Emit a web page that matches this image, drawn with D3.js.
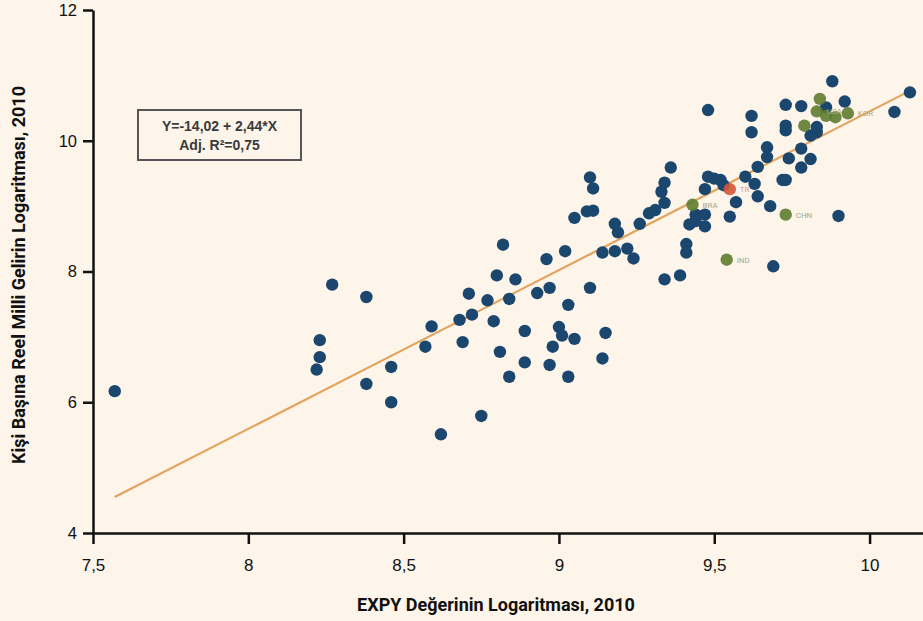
<!DOCTYPE html>
<html lang="tr">
<head>
<meta charset="utf-8">
<title>EXPY ve Kişi Başına Gelir</title>
<script src="https://cdn.jsdelivr.net/npm/d3@7"></script>
<style>
  body { margin: 0; background: #fdf4ea; }
  svg { display: block; font-family: Roboto, "DejaVu Sans", sans-serif; }
  .axis path, .axis line { stroke: #111; stroke-width: 2.5px; }
  .axis text { font-size: 16.5px; fill: #111; }
  .title { font-size: 18px; font-weight: bold; fill: #111; }
</style>
</head>
<body>
<div id="chart"></div>
<script>
// log EXPY (x) and log real GDP per capita (y), 2010
var xVals = [7.57, 8.27, 8.38, 8.23, 8.23, 8.22, 8.38, 8.46, 8.46, 8.57,
             8.59, 8.62, 8.69, 8.68, 8.72, 8.71, 8.75, 8.77, 8.79, 8.80,
             8.82, 8.81, 8.84, 8.84, 8.86, 8.89, 8.89, 8.93, 8.96, 8.97,
             8.97, 8.98, 9.00, 9.01, 9.02, 9.03, 9.03, 9.05, 9.10, 9.14,
             9.15, 9.14, 9.18, 9.22, 9.24, 9.19, 9.18, 9.26, 9.34, 9.39,
             9.10, 9.11, 9.09, 9.11, 9.05, 9.36, 9.34, 9.33, 9.34, 9.31,
             9.29, 9.41, 9.41, 9.42, 9.44, 9.47, 9.44, 9.47, 9.48, 9.50,
             9.52, 9.53, 9.47, 9.57, 9.55, 9.60, 9.63, 9.64, 9.64, 9.68,
             9.69, 9.72, 9.73, 9.78, 9.90, 9.48, 9.62, 9.62, 9.73, 9.78,
             9.88, 9.92, 10.13, 10.08, 9.73, 9.73, 9.67, 9.67, 9.74, 9.81,
             9.78, 9.86, 9.83, 9.81, 9.83];
var yVals = [6.17, 7.80, 7.61, 6.95, 6.69, 6.50, 6.28, 6.54, 6.00, 6.85,
             7.16, 5.51, 6.92, 7.26, 7.34, 7.66, 5.79, 7.56, 7.24, 7.94,
             8.41, 6.77, 6.39, 7.58, 7.88, 7.09, 6.61, 7.67, 8.19, 7.75,
             6.57, 6.85, 7.15, 7.02, 8.31, 7.49, 6.39, 6.97, 7.75, 8.29,
             7.06, 6.67, 8.31, 8.35, 8.20, 8.60, 8.73, 8.73, 7.88, 7.94,
             9.44, 9.27, 8.92, 8.93, 8.82, 9.59, 9.36, 9.22, 9.05, 8.94,
             8.89, 8.42, 8.29, 8.72, 8.87, 8.87, 8.77, 8.69, 9.45, 9.42,
             9.40, 9.32, 9.26, 9.06, 8.84, 9.45, 9.34, 9.60, 9.15, 9.00,
             8.08, 9.40, 9.40, 9.59, 8.85, 10.47, 10.38, 10.13, 10.55, 10.53,
             10.91, 10.60, 10.74, 10.44, 10.23, 10.16, 9.90, 9.75, 9.73, 9.72,
             9.88, 10.51, 10.21, 10.08, 10.13];

// highlighted countries
var hlNames = ["BRA", "CHN", "IND", "TR", "", "USA", "", "", "", "KOR"];
var hlX = [9.43, 9.73, 9.54, 9.55, 9.84, 9.83, 9.86, 9.89, 9.79, 9.93];
var hlY = [9.02, 8.87, 8.18, 9.26, 10.64, 10.45, 10.38, 10.36, 10.23, 10.42];
var hlKind = ["g", "g", "g", "r", "g", "g", "g", "g", "g", "g"];

// fitted line end points as drawn
var fitX = [7.57, 10.12];
var fitY = [4.55, 10.74];

var xTicks = [7.5, 8, 8.5, 9, 9.5, 10];
var xTickLabels = ["7,5", "8", "8,5", "9", "9,5", "10"];
var yTicks = [4, 6, 8, 10, 12];

var width = 923, height = 621;

var svg = d3.select("#chart").append("svg")
    .attr("width", width)
    .attr("height", height);

var x = d3.scaleLinear().domain([7.5, 10.172]).range([93, 923]);
var y = d3.scaleLinear().domain([4, 12]).range([533, 10]);

// axes
svg.append("g")
    .attr("class", "axis")
    .attr("transform", "translate(0,533)")
    .call(d3.axisBottom(x).tickValues(xTicks)
      .tickFormat(function(d, i) { return xTickLabels[i]; })
      .tickSizeOuter(0).tickSizeInner(11).tickPadding(15))
    .selectAll("text").style("font-size", "17px");

svg.append("g")
    .attr("class", "axis")
    .attr("transform", "translate(93,0)")
    .call(d3.axisLeft(y).tickValues(yTicks).tickFormat(d3.format("d"))
      .tickSizeOuter(0).tickSizeInner(10).tickPadding(6));

// regression line
svg.append("line")
    .attr("x1", x(fitX[0])).attr("y1", y(fitY[0]))
    .attr("x2", x(fitX[1])).attr("y2", y(fitY[1]))
    .attr("stroke", "#e4a35c")
    .attr("stroke-width", 2.2);

var pts = xVals.map(function(d, i) { return {x: d, y: yVals[i]}; });

svg.append("g").selectAll("circle")
    .data(pts)
  .enter().append("circle")
    .attr("cx", function(d) { return x(d.x); })
    .attr("cy", function(d) { return y(d.y); })
    .attr("r", 6.2)
    .attr("fill", "#1b476e");

var hl = hlX.map(function(d, i) {
  return {x: d, y: hlY[i], name: hlNames[i], kind: hlKind[i]};
});

svg.append("g").selectAll("circle")
    .data(hl)
  .enter().append("circle")
    .attr("cx", function(d) { return x(d.x); })
    .attr("cy", function(d) { return y(d.y); })
    .attr("r", 6.2)
    .attr("fill", function(d) { return d.kind == "r" ? "#d4573a" : "#5e7b2f"; })
    .attr("opacity", 0.9);

svg.append("g").selectAll("text")
    .data(hl.filter(function(d) { return d.name; }))
  .enter().append("text")
    .attr("x", function(d) { return x(d.x) + 10; })
    .attr("y", function(d) { return y(d.y) + 3; })
    .attr("font-size", "8px")
    .attr("fill", function(d) { return d.kind == "r" ? "#d99a94" : "#a5ab8c"; })
    .text(function(d) { return d.name; });

// equation box
var box = svg.append("g").attr("transform", "translate(138,110)");
box.append("rect")
    .attr("width", 163).attr("height", 50)
    .attr("fill", "#fdf4ea")
    .attr("stroke", "#555")
    .attr("stroke-width", 2);
box.selectAll("text")
    .data(["Y=-14,02 + 2,44*X", "Adj. R²=0,75"])
  .enter().append("text")
    .attr("x", 81.5)
    .attr("y", function(d, i) { return 21 + i * 18.5; })
    .attr("text-anchor", "middle")
    .style("font-family", "'Liberation Sans', Arial, sans-serif")
    .attr("font-size", "14px").attr("font-weight", "bold").attr("fill", "#3a3a3a")
    .text(function(d) { return d; });

// axis titles
svg.append("text")
    .attr("class", "title")
    .attr("x", 496).attr("y", 611)
    .attr("text-anchor", "middle")
    .text("EXPY Değerinin Logaritması, 2010");

svg.append("text")
    .attr("class", "title")
    .attr("transform", "translate(25,275) rotate(-90)")
    .attr("text-anchor", "middle")
    .text("Kişi Başına Reel Milli Gelirin Logaritması, 2010");
</script>
</body>
</html>
